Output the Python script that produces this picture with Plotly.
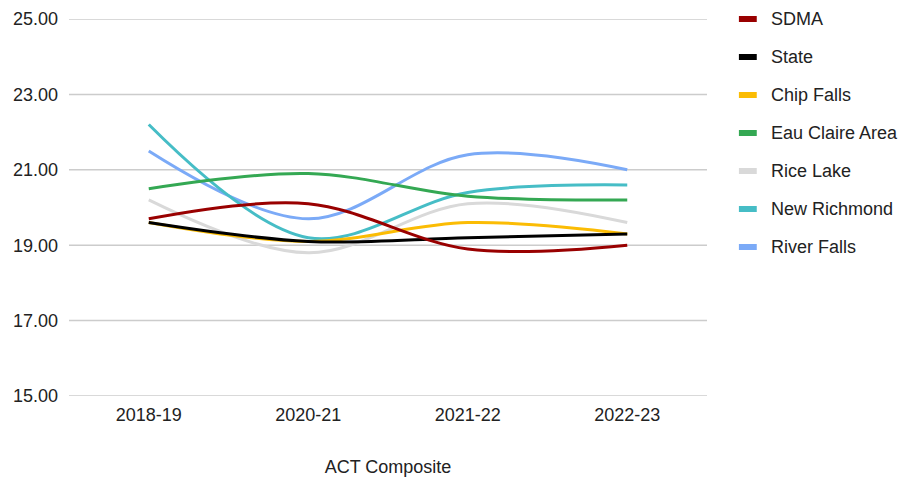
import plotly.graph_objects as go

years = ["2018-19", "2020-21", "2021-22", "2022-23"]
names = ["SDMA", "State", "Chip Falls", "Eau Claire Area", "Rice Lake", "New Richmond", "River Falls"]
sdma = [19.7, 20.1, 18.9, 19.0]
state = [19.6, 19.1, 19.2, 19.3]
chip_falls = [19.6, 19.1, 19.6, 19.3]
eau_claire = [20.5, 20.9, 20.3, 20.2]
rice_lake = [20.2, 18.8, 20.1, 19.6]
new_richmond = [22.2, 19.2, 20.4, 20.6]
river_falls = [21.5, 19.7, 21.4, 21.0]
colors = ["#990000", "#000000", "#fbbc04", "#34a853", "#d9d9d9", "#46bdc6", "#7baaf7"]
series = [sdma, state, chip_falls, eau_claire, rice_lake, new_richmond, river_falls]
y_ticks = [15, 17, 19, 21, 23, 25]

FONT = "Liberation Sans, Arial, sans-serif"

fig = go.Figure()

# horizontal gridlines at the y ticks (including the range edges)
for t in y_ticks:
    fig.add_hline(y=t, line=dict(color="#cccccc", width=1.5), layer="below")

# draw in reverse so SDMA is on top
for name, vals, col in reversed(list(zip(names, series, colors))):
    fig.add_trace(go.Scatter(
        x=years, y=vals, name=name, mode="lines",
        line=dict(color=col, width=3, shape="spline", smoothing=1.0),
        showlegend=False, cliponaxis=False,
    ))

# legend built from names/colors
step = 38 / 377
for i, (name, col) in enumerate(zip(names, colors)):
    yp = 1.0 - i * step
    fig.add_shape(type="rect", xref="paper", yref="paper",
                  x0=1.050, x1=1.078, y0=yp - 3 / 377, y1=yp + 3 / 377,
                  fillcolor=col, line=dict(width=0))
    fig.add_annotation(xref="paper", yref="paper", x=1.097, y=yp,
                       text=name, showarrow=False, xanchor="left", yanchor="middle",
                       font=dict(family=FONT, size=18, color="#222222"))

fig.update_layout(
    width=903, height=479,
    margin=dict(l=69, r=196, t=19, b=83, autoexpand=False),
    paper_bgcolor="white", plot_bgcolor="white",
    font=dict(family=FONT, size=18, color="#222222"),
    showlegend=False,
    xaxis=dict(
        type="category", range=[-0.5, 3.5], showgrid=False, zeroline=False,
        showline=False, ticks="", ticklabelstandoff=6, automargin=False,
        title=dict(text="ACT Composite", font=dict(size=18, color="#222222"), standoff=36),
    ),
    yaxis=dict(
        range=[15, 25], tickvals=y_ticks, tickformat=".2f", automargin=False,
        showgrid=False, zeroline=False,
        showline=False, ticks="", ticklabelstandoff=10,
    ),
)

fig.write_html("out.html", config={"displayModeBar": False},
               post_script="document.body.style.margin='0px';document.body.style.overflow='hidden';")
